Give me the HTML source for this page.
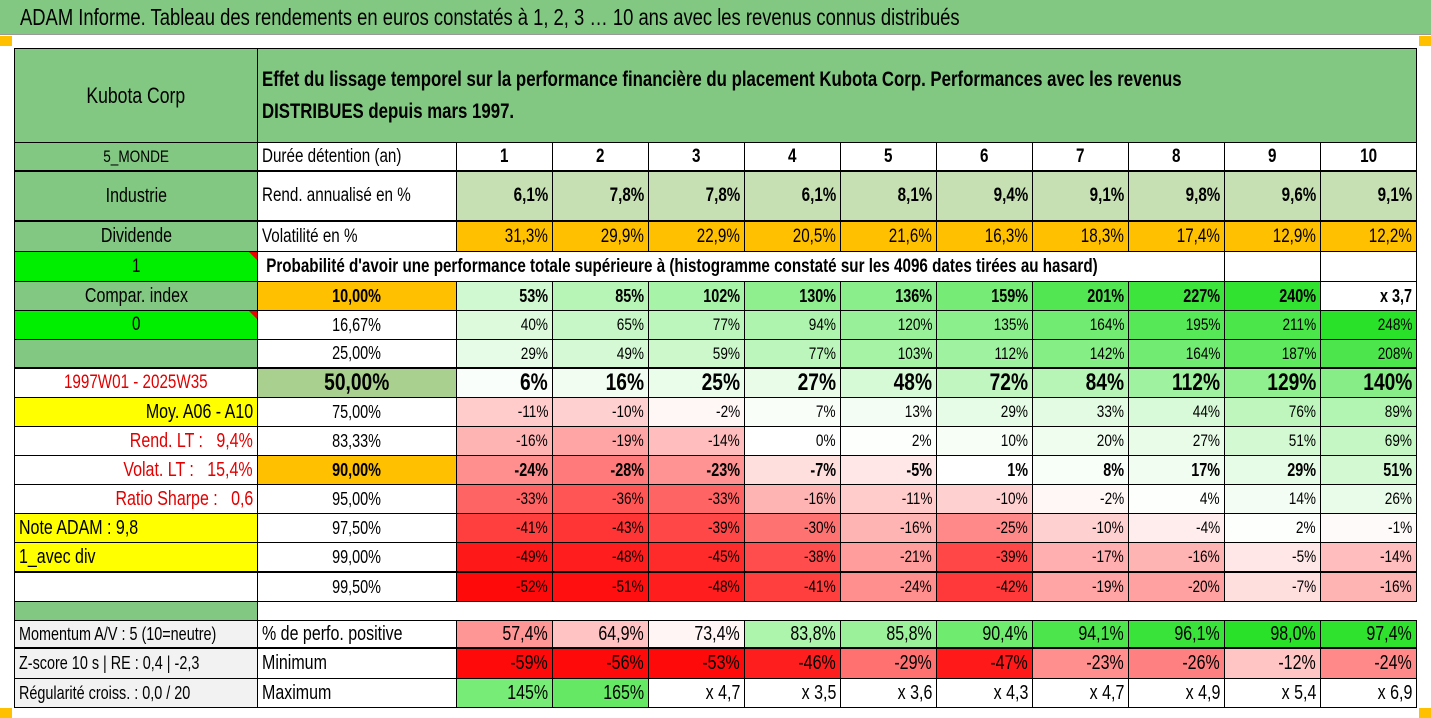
<!DOCTYPE html>
<html><head><meta charset="utf-8">
<style>
body{margin:0;width:1431px;height:718px;background:#fff;position:relative;overflow:hidden;font-family:"Liberation Sans",sans-serif;color:#000}
#title{position:absolute;left:0;top:0;width:1431px;height:34px;background:#82c882;border-bottom:1px solid #9a9a9a;font-size:23px;line-height:34px;white-space:nowrap}
#title span{display:inline-block;transform:scaleX(.8);transform-origin:left center;margin-left:20px}
.c{position:absolute;box-sizing:border-box;border-right:1px solid #000;border-bottom:1px solid #000;display:flex;align-items:center;white-space:nowrap;overflow:hidden;padding:0 4px}
.s{display:inline-block;transform:scaleX(.8)}
.sq{position:absolute;background:#ffc000;width:12px;height:10px}
.tri{position:absolute;width:0;height:0;border-top:8px solid #e00;border-left:8px solid transparent}
</style></head><body>
<div id="title"><span>ADAM Informe. Tableau des rendements en euros constatés à 1, 2, 3 … 10 ans avec les revenus connus distribués</span></div>
<div class="sq" style="left:0;top:36px"></div>
<div class="sq" style="left:1419px;top:36px"></div>
<div class="sq" style="left:0;top:708px"></div>
<div class="sq" style="left:1419px;top:708px"></div>
<div id="grid"></div>
<script>
const years=['1','2','3','4','5','6','7','8','9','10'];
const rendAnn=['6,1%','7,8%','7,8%','6,1%','8,1%','9,4%','9,1%','9,8%','9,6%','9,1%'];
const volat=['31,3%','29,9%','22,9%','20,5%','21,6%','16,3%','18,3%','17,4%','12,9%','12,2%'];
const q10=[53,85,102,130,136,159,201,227,240,'x 3,7'];
const q16=[40,65,77,94,120,135,164,195,211,248];
const q25=[29,49,59,77,103,112,142,164,187,208];
const q50=[6,16,25,27,48,72,84,112,129,140];
const q75=[-11,-10,-2,7,13,29,33,44,76,89];
const q83=[-16,-19,-14,0,2,10,20,27,51,69];
const q90=[-24,-28,-23,-7,-5,1,8,17,29,51];
const q95=[-33,-36,-33,-16,-11,-10,-2,4,14,26];
const q975=[-41,-43,-39,-30,-16,-25,-10,-4,2,-1];
const q99=[-49,-48,-45,-38,-21,-39,-17,-16,-5,-14];
const q995=[-52,-51,-48,-41,-24,-42,-19,-20,-7,-16];
const posPct=[57.4,64.9,73.4,83.8,85.8,90.4,94.1,96.1,98.0,97.4];
const minV=[-59,-56,-53,-46,-29,-47,-23,-26,-12,-24];
const maxV=[145,165,'x 4,7','x 3,5','x 3,6','x 4,3','x 4,7','x 4,9','x 5,4','x 6,9'];

const G=document.getElementById('grid');
const colX=[14,258,457];for(let i=1;i<=10;i++)colX.push(457+96*i);
const rowY=[48,143,172,222,252,282,311,340,369,398,427,456,485,514,543,573,602,620,649,679,708];
const thick={172:1,222:1,369:1,573:1,649:1};
function cell(c0,c1,r,txt,o){
  const d=document.createElement('div');d.className='c';
  
  
  const x=colX[c0],y=rowY[r];
  d.style.left=x+'px';d.style.top=y+'px';
  d.style.width=(colX[c1]-x)+'px';d.style.height=(rowY[r+1]-y)+'px';
  if(c0===0)d.style.borderLeft='1px solid #000';
  if(r===0||r===17)d.style.borderTop='1px solid #000';
  if(thick[rowY[r+1]])d.style.borderBottom='2px solid #000';
  d.style.background=o.bg||'#fff';
  const al=o.al||'center';
  d.style.justifyContent=al;
  d.style.fontSize=(o.fs||15)+'px';
  if(o.b)d.style.fontWeight='bold';
  if(o.col)d.style.color=o.col;
  if(o.noB){d.style.border='none';}
  if(txt){
    const s=document.createElement('span');s.className='s';
    
    
    s.style.transformOrigin=al==='flex-end'?'right center':(al==='flex-start'?'left center':'center center');
    if(o.wrap){s.style.whiteSpace='normal';s.style.width=o.wrap+'px';s.style.lineHeight='32px';}
    s.innerHTML=txt;d.appendChild(s);
  }
  G.appendChild(d);return d;
}
function mix(t,r,g,b){t=Math.max(0,Math.min(1,t));return 'rgb('+Math.round(255-(255-r)*t)+','+Math.round(255-(255-g)*t)+','+Math.round(255-(255-b)*t)+')';}
function pcol(v){if(typeof v!=='number')return '#fff';return v>=0?mix(v/250,40,225,40):mix(-v/52,255,10,10);}
const GR='#82c882';
const left=[
['Kubota Corp',GR,'center',22,null,'asset-name'],
['5_MONDE',GR,'center',17,null,'zone-label'],
['Industrie',GR,'center',20,null,'sector-label'],
['Dividende',GR,'center',20,null,'dividend-label'],
['1','#00ee00','center',19,null,'dividend-flag'],
['Compar. index',GR,'center',20,null,'compar-index-label'],
['0','#00ee00','center',19,null,'compar-index-flag'],
['',GR,'center',15,null,'blank-cell'],
['1997W01 - 2025W35','#fff','center',19,'#e00000','period-label'],
['Moy. A06 - A10','#ffff00','flex-end',20,null,'average-label'],
['Rend. LT :&nbsp;&nbsp; 9,4%','#fff','flex-end',20,'#e00000','long-term-return'],
['Volat. LT :&nbsp;&nbsp; 15,4%','#fff','flex-end',20,'#e00000','long-term-volatility'],
['Ratio Sharpe :&nbsp;&nbsp; 0,6','#fff','flex-end',20,'#e00000','sharpe-ratio'],
['Note ADAM : 9,8','#ffff00','flex-start',20,null,'adam-score'],
['1_avec div','#ffff00','flex-start',20,null,'dividend-mode'],
['','#fff','center',15,null,'blank-cell'],
['',GR,'center',15,null,'spacer-cell'],
['Momentum A/V : 5 (10=neutre)','#f2f2f2','flex-start',18,null,'momentum-label'],
['Z-score 10 s | RE : 0,4 | -2,3','#f2f2f2','flex-start',18,null,'zscore-label'],
['Régularité croiss. : 0,0 / 20','#f2f2f2','flex-start',18,null,'regularity-label']];
left.forEach((l,r)=>{const d=cell(0,1,r,l[0],{bg:l[1],al:l[2],fs:l[3],col:l[4],name:l[5]});
  if(r===16)d.style.borderBottom='none';
  if(r===4||r===6){const t=document.createElement('div');t.className='tri';t.style.left=(colX[1]-9)+'px';t.style.top=rowY[r]+'px';
  
  
  G.appendChild(t);}
});
cell(1,12,0,'Effet du lissage temporel sur la performance financière du placement Kubota Corp. Performances avec les revenus DISTRIBUES depuis mars 1997.',{bg:GR,al:'flex-start',fs:21,b:1,wrap:1400,name:'table-header'});
cell(1,2,1,'Durée détention (an)',{al:'flex-start',fs:19,name:'holding-label'});
years.forEach((y,i)=>cell(i+2,i+3,1,y,{fs:19,b:1,name:'year-header'}));
cell(1,2,2,'Rend. annualisé en %',{al:'flex-start',fs:19,name:'return-label'});
rendAnn.forEach((v,i)=>cell(i+2,i+3,2,v,{bg:'#c6e0b4',al:'flex-end',fs:19,b:1,name:'annual-return'}));
cell(1,2,3,'Volatilité en %',{al:'flex-start',fs:19,name:'volatility-label'});
volat.forEach((v,i)=>cell(i+2,i+3,3,v,{bg:'#ffc000',al:'flex-end',fs:19,name:'volatility-value'}));
cell(1,10,4,'&nbsp;Probabilité d\'avoir une performance totale supérieure à (histogramme constaté sur les 4096 dates tirées au hasard)',{al:'flex-start',fs:19,b:1,name:'probability-caption'});
cell(10,11,4,'',{name:'blank-cell'});cell(11,12,4,'',{name:'blank-cell'});
const qs=[['10,00%',q10,'#ffc000',18,1],['16,67%',q16,'#fff',17,0],['25,00%',q25,'#fff',17,0],['50,00%',q50,'#a9d08e',24,1],
['75,00%',q75,'#fff',17,0],['83,33%',q83,'#fff',17,0],['90,00%',q90,'#ffc000',18,1],['95,00%',q95,'#fff',17,0],
['97,50%',q975,'#fff',17,0],['99,00%',q99,'#fff',17,0],['99,50%',q995,'#fff',17,0]];
qs.forEach((q,k)=>{const r=5+k;
  cell(1,2,r,q[0],{bg:q[2],fs:q[3]===24?24:18,b:q[4],name:'quantile-label'});
  q[1].forEach((v,i)=>cell(i+2,i+3,r,typeof v==='number'?v+'%':v,{bg:pcol(v),al:'flex-end',fs:q[3],b:q[4],name:'quantile-value'}));
});
cell(1,12,16,'',{noB:1,name:'spacer-row'});
cell(1,2,17,'% de perfo. positive',{al:'flex-start',fs:20,name:'positive-label'});
posPct.forEach((v,i)=>cell(i+2,i+3,17,v.toFixed(1).replace('.',',')+'%',{bg:v<75?mix((75-v)/36,255,40,40):mix((v-75)/23,40,225,40),al:'flex-end',fs:20,name:'positive-value'}));
cell(1,2,18,'Minimum',{al:'flex-start',fs:20,name:'minimum-label'});
minV.forEach((v,i)=>cell(i+2,i+3,18,v+'%',{bg:mix(-v/50,255,10,10),al:'flex-end',fs:20,name:'minimum-value'}));
cell(1,2,19,'Maximum',{al:'flex-start',fs:20,name:'maximum-label'});
maxV.forEach((v,i)=>cell(i+2,i+3,19,typeof v==='number'?v+'%':v,{bg:typeof v==='number'?mix(v/230,40,225,40):'#fff',al:'flex-end',fs:20,name:'maximum-value'}));
</script>
</body></html>
